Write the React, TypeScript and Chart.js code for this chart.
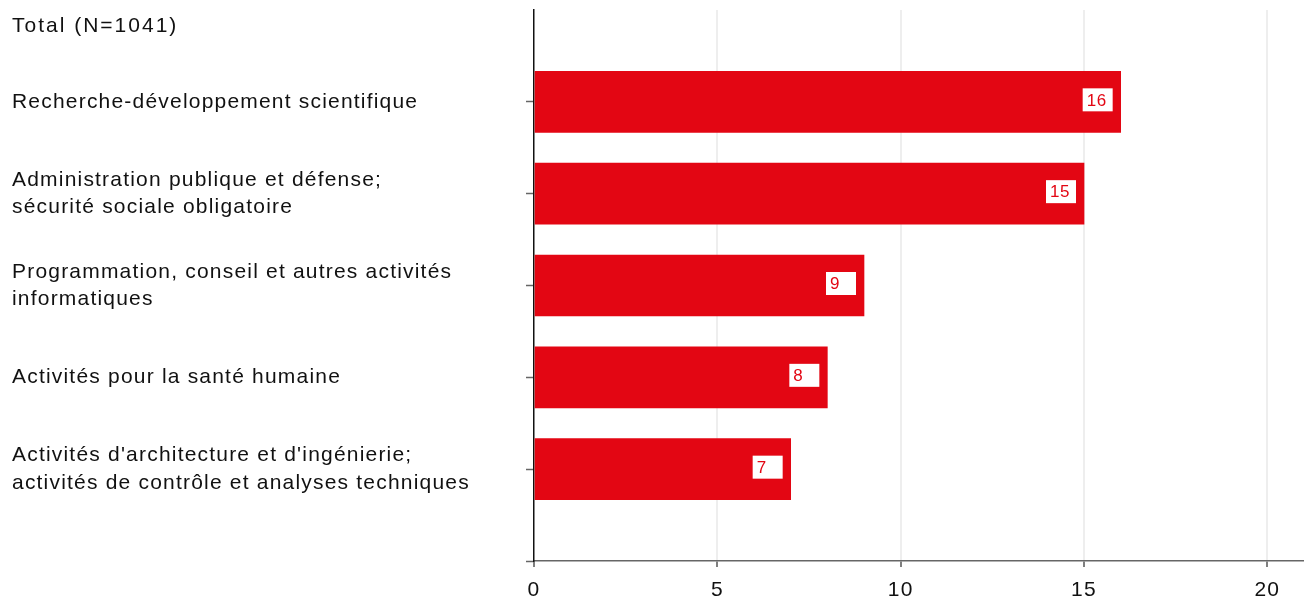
import React, { useEffect, useRef } from "react";
import { Chart, registerables } from "chart.js";

Chart.register(...registerables);

const title = "Total (N=1041)";
const categories: (string | string[])[] = [
  "",
  "Recherche-développement scientifique",
  ["Administration publique et défense;", "sécurité sociale obligatoire"],
  ["Programmation, conseil et autres activités", "informatiques"],
  "Activités pour la santé humaine",
  ["Activités d'architecture et d'ingénierie;", "activités de contrôle et analyses techniques"],
  "",
];
const values: (number | null)[] = [null, 16, 15, 9, 8, 7, null];
const xTicks = [0, 5, 10, 15, 20];

const RED = "#e30613";
const FONT = "'Liberation Sans', Arial, Helvetica, sans-serif";

const spacingPlugin = {
  id: "spacing",
  beforeDraw(chart: any) {
    (chart.ctx as any).letterSpacing = "1.2px";
  },
};

const overlayPlugin = {
  id: "overlay",
  afterDatasetsDraw(chart: any) {
    const ctx = chart.ctx as any;
    const meta = chart.getDatasetMeta(0);
    ctx.save();
    meta.data.forEach((bar: any, i: number) => {
      const v = values[i];
      if (v === null || v === undefined) return;
      const w = 30;
      const h = 23;
      const right = bar.x - 8;
      const left = right - w;
      const top = bar.y - h / 2 - 2;
      ctx.fillStyle = "#ffffff";
      ctx.fillRect(left, top, w, h);
      ctx.fillStyle = RED;
      ctx.letterSpacing = "0.6px";
      ctx.font = `17px ${FONT}`;
      ctx.textAlign = "left";
      ctx.textBaseline = "middle";
      ctx.fillText(String(v), left + 4, bar.y - 1);
    });
    ctx.letterSpacing = "2px";
    ctx.fillStyle = "#111111";
    ctx.font = `21px ${FONT}`;
    ctx.textAlign = "left";
    ctx.textBaseline = "middle";
    ctx.fillText(title, 12, 26);
    ctx.restore();
  },
};

export default function App() {
  const ref = useRef<HTMLCanvasElement | null>(null);

  useEffect(() => {
    document.body.style.margin = "0";
    if (!ref.current) return;
    const chart = new Chart(ref.current, {
      type: "bar",
      data: {
        labels: categories,
        datasets: [
          {
            data: values,
            backgroundColor: RED,
            barThickness: 61,
            borderWidth: 0,
          },
        ],
      },
      options: {
        indexAxis: "y",
        animation: false,
        responsive: false,
        maintainAspectRatio: false,
        layout: { padding: { left: 12, top: 10, right: 0, bottom: 0 } },
        plugins: {
          legend: { display: false },
          tooltip: { enabled: false },
        },
        scales: {
          x: {
            type: "linear",
            min: 0,
            max: 21,
            afterBuildTicks: (scale: any) => {
              scale.ticks = xTicks.map((v) => ({ value: v }));
            },
            afterFit: (scale: any) => {
              scale.height = 39;
              scale.paddingLeft = 0;
              scale.paddingRight = 0;
            },
            border: { color: "#666666", width: 1.5 },
            grid: {
              color: (c: any) => (c.tick && c.tick.value === 0 ? "rgba(0,0,0,0)" : "#eeeeee"),
              lineWidth: 2,
              tickColor: "#555555",
              tickLength: 6,
              tickWidth: 1.5,
            },
            ticks: {
              color: "#111111",
              font: { family: FONT, size: 21 },
              padding: 11,
              maxRotation: 0,
            },
          },
          y: {
            type: "category",
            offset: false,
            afterFit: (scale: any) => {
              scale.width = 522;
              scale.paddingTop = 0;
              scale.paddingBottom = 0;
            },
            border: { color: "#111111", width: 1.5 },
            grid: {
              offset: false,
              drawOnChartArea: false,
              drawTicks: true,
              tickLength: 8,
              tickWidth: 1.5,
              tickColor: (c: any) => (c.index === 0 ? "rgba(0,0,0,0)" : "#666666"),
            },
            ticks: {
              crossAlign: "far",
              color: "#111111",
              font: { family: FONT, size: 21, lineHeight: 1.3 },
              autoSkip: false,
            },
          },
        },
      },
      plugins: [spacingPlugin, overlayPlugin],
    } as any);
    return () => chart.destroy();
  }, []);

  return (
    <div style={{ width: 1304, height: 600 }}>
      <canvas ref={ref} width={1304} height={600} style={{ display: "block" }} />
    </div>
  );
}
